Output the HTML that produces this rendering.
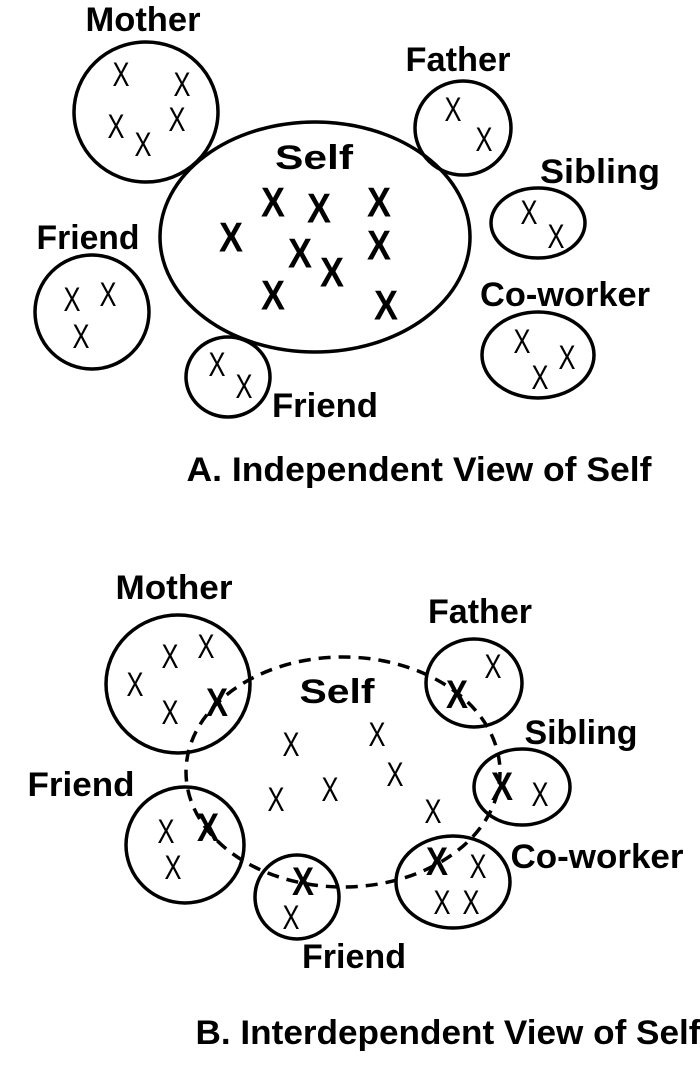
<!DOCTYPE html>
<html><head><meta charset="utf-8"><style>
html,body{margin:0;padding:0;background:#fff}
svg{display:block}
text{font-family:"Liberation Sans",Arial,sans-serif;font-weight:bold;fill:#000}
.l{font-size:34px}
.x{font-size:34px;font-weight:normal}
.bx{font-size:42px;font-weight:bold}
.mx{font-size:40px;font-weight:bold}
</style></head><body>
<svg width="700" height="1072" viewBox="0 0 700 1072" xmlns="http://www.w3.org/2000/svg">
<g fill="none" stroke="#000" stroke-width="3.5">
<ellipse cx="146" cy="112" rx="72" ry="70"/>
<ellipse cx="315" cy="237" rx="155" ry="115"/>
<ellipse cx="463" cy="128" rx="48" ry="47"/>
<ellipse cx="538" cy="223" rx="47" ry="35"/>
<ellipse cx="538" cy="355" rx="56" ry="43"/>
<ellipse cx="92" cy="312" rx="57" ry="57"/>
<ellipse cx="228" cy="377" rx="42" ry="40"/>

<ellipse cx="178" cy="684" rx="72" ry="69"/>
<ellipse cx="474" cy="683" rx="48" ry="44"/>
<ellipse cx="522" cy="787" rx="48" ry="38"/>
<ellipse cx="453" cy="882" rx="57" ry="46"/>
<ellipse cx="185" cy="845" rx="59" ry="58"/>
<ellipse cx="297" cy="897" rx="42" ry="42"/>
<ellipse cx="343" cy="772" rx="157" ry="115" stroke-width="3.5" stroke-dasharray="12 8"/>
</g>
<g text-anchor="middle" dominant-baseline="central">
<text class="l" x="143" y="20" textLength="115" lengthAdjust="spacingAndGlyphs">Mother</text>
<text class="l" x="314" y="158" textLength="78" lengthAdjust="spacingAndGlyphs">Self</text>
<text class="l" x="458" y="60" textLength="105" lengthAdjust="spacingAndGlyphs">Father</text>
<text class="l" x="600" y="172" textLength="120" lengthAdjust="spacingAndGlyphs">Sibling</text>
<text class="l" x="565" y="295" textLength="170" lengthAdjust="spacingAndGlyphs">Co-worker</text>
<text class="l" x="88" y="238" textLength="103" lengthAdjust="spacingAndGlyphs">Friend</text>
<text class="l" x="325" y="406" textLength="106" lengthAdjust="spacingAndGlyphs">Friend</text>
<text class="l" x="419" y="470" textLength="465" lengthAdjust="spacingAndGlyphs">A. Independent View of Self</text>

<g class="x">
<text class="x" x="121" y="75" textLength="17" lengthAdjust="spacingAndGlyphs">X</text><text class="x" x="182" y="85" textLength="17" lengthAdjust="spacingAndGlyphs">X</text>
<text class="x" x="116" y="127" textLength="17" lengthAdjust="spacingAndGlyphs">X</text><text class="x" x="177" y="120" textLength="17" lengthAdjust="spacingAndGlyphs">X</text>
<text class="x" x="143" y="145" textLength="17" lengthAdjust="spacingAndGlyphs">X</text>
</g>
<text class="bx" x="273" y="202" textLength="24" lengthAdjust="spacingAndGlyphs">X</text><text class="bx" x="319" y="208" textLength="24" lengthAdjust="spacingAndGlyphs">X</text>
<text class="bx" x="379" y="202" textLength="24" lengthAdjust="spacingAndGlyphs">X</text><text class="bx" x="231" y="237" textLength="24" lengthAdjust="spacingAndGlyphs">X</text>
<text class="bx" x="379" y="245" textLength="24" lengthAdjust="spacingAndGlyphs">X</text><text class="bx" x="300" y="253" textLength="24" lengthAdjust="spacingAndGlyphs">X</text>
<text class="bx" x="332" y="272" textLength="24" lengthAdjust="spacingAndGlyphs">X</text><text class="bx" x="273" y="295" textLength="24" lengthAdjust="spacingAndGlyphs">X</text>
<text class="bx" x="386" y="305" textLength="24" lengthAdjust="spacingAndGlyphs">X</text>
<text class="x" x="453" y="110" textLength="17" lengthAdjust="spacingAndGlyphs">X</text><text class="x" x="484" y="140" textLength="17" lengthAdjust="spacingAndGlyphs">X</text>
<text class="x" x="529" y="213" textLength="17" lengthAdjust="spacingAndGlyphs">X</text><text class="x" x="556" y="237" textLength="17" lengthAdjust="spacingAndGlyphs">X</text>
<text class="x" x="522" y="342" textLength="17" lengthAdjust="spacingAndGlyphs">X</text><text class="x" x="567" y="358" textLength="17" lengthAdjust="spacingAndGlyphs">X</text><text class="x" x="540" y="378" textLength="17" lengthAdjust="spacingAndGlyphs">X</text>
<text class="x" x="72" y="300" textLength="17" lengthAdjust="spacingAndGlyphs">X</text><text class="x" x="108" y="295" textLength="17" lengthAdjust="spacingAndGlyphs">X</text><text class="x" x="81" y="337" textLength="17" lengthAdjust="spacingAndGlyphs">X</text>
<text class="x" x="217" y="365" textLength="17" lengthAdjust="spacingAndGlyphs">X</text><text class="x" x="244" y="387" textLength="17" lengthAdjust="spacingAndGlyphs">X</text>

<text class="l" x="174" y="588" textLength="117" lengthAdjust="spacingAndGlyphs">Mother</text>
<text class="l" x="337" y="692" textLength="75" lengthAdjust="spacingAndGlyphs">Self</text>
<text class="l" x="480" y="612" textLength="104" lengthAdjust="spacingAndGlyphs">Father</text>
<text class="l" x="581" y="733" textLength="113" lengthAdjust="spacingAndGlyphs">Sibling</text>
<text class="l" x="597" y="857" textLength="173" lengthAdjust="spacingAndGlyphs">Co-worker</text>
<text class="l" x="81" y="785" textLength="107" lengthAdjust="spacingAndGlyphs">Friend</text>
<text class="l" x="354" y="957" textLength="104" lengthAdjust="spacingAndGlyphs">Friend</text>
<text class="l" x="448" y="1033" textLength="505" lengthAdjust="spacingAndGlyphs">B. Interdependent View of Self</text>

<text class="x" x="170" y="657" textLength="17" lengthAdjust="spacingAndGlyphs">X</text><text class="x" x="206" y="647" textLength="17" lengthAdjust="spacingAndGlyphs">X</text>
<text class="x" x="135" y="685" textLength="17" lengthAdjust="spacingAndGlyphs">X</text><text class="x" x="170" y="713" textLength="17" lengthAdjust="spacingAndGlyphs">X</text>
<text class="mx" x="217" y="703" textLength="22" lengthAdjust="spacingAndGlyphs">X</text>
<text class="x" x="291" y="745" textLength="17" lengthAdjust="spacingAndGlyphs">X</text><text class="x" x="377" y="735" textLength="17" lengthAdjust="spacingAndGlyphs">X</text>
<text class="x" x="395" y="775" textLength="17" lengthAdjust="spacingAndGlyphs">X</text><text class="x" x="330" y="790" textLength="17" lengthAdjust="spacingAndGlyphs">X</text>
<text class="x" x="276" y="800" textLength="17" lengthAdjust="spacingAndGlyphs">X</text><text class="x" x="433" y="812" textLength="17" lengthAdjust="spacingAndGlyphs">X</text>
<text class="mx" x="457" y="695" textLength="22" lengthAdjust="spacingAndGlyphs">X</text><text class="x" x="493" y="667" textLength="17" lengthAdjust="spacingAndGlyphs">X</text>
<text class="mx" x="502" y="787" textLength="22" lengthAdjust="spacingAndGlyphs">X</text><text class="x" x="540" y="795" textLength="17" lengthAdjust="spacingAndGlyphs">X</text>
<text class="mx" x="437" y="862" textLength="22" lengthAdjust="spacingAndGlyphs">X</text><text class="x" x="478" y="867" textLength="17" lengthAdjust="spacingAndGlyphs">X</text>
<text class="x" x="442" y="903" textLength="17" lengthAdjust="spacingAndGlyphs">X</text><text class="x" x="471" y="903" textLength="17" lengthAdjust="spacingAndGlyphs">X</text>
<text class="x" x="166" y="832" textLength="17" lengthAdjust="spacingAndGlyphs">X</text><text class="mx" x="208" y="828" textLength="22" lengthAdjust="spacingAndGlyphs">X</text><text class="x" x="173" y="868" textLength="17" lengthAdjust="spacingAndGlyphs">X</text>
<text class="mx" x="303" y="882" textLength="22" lengthAdjust="spacingAndGlyphs">X</text><text class="x" x="291" y="918" textLength="17" lengthAdjust="spacingAndGlyphs">X</text>
</g>
</svg>
</body></html>
